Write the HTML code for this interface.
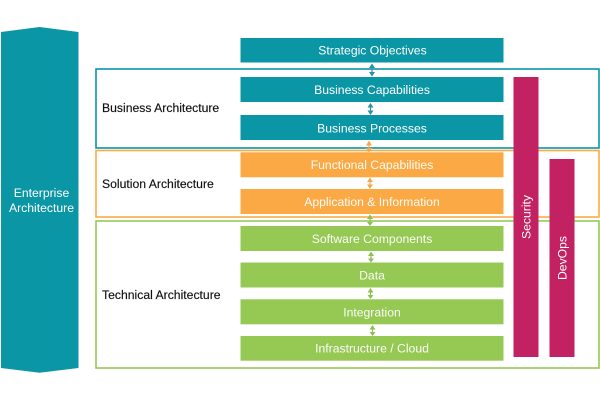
<!DOCTYPE html>
<html><head><meta charset="utf-8"><style>
html,body{margin:0;padding:0;background:#fff}
svg{display:block}
text{font-family:"Liberation Sans",sans-serif;font-size:12.2px}
.w{fill:#fff;text-anchor:middle}
.wl{fill:#fff;text-anchor:middle;fill-opacity:.95}
.k{fill:#111;stroke:#111;stroke-width:.15}
</style></head><body>
<svg width="600" height="400" viewBox="0 0 600 400" xmlns="http://www.w3.org/2000/svg">
<rect width="600" height="400" fill="#fff"/>
<polygon points="1,32 39.5,27 78.5,32 78.5,368 39.5,372.8 1,368" fill="#0b96a6"/>
<text class="w" x="41.500" y="197">Enterprise</text>
<text class="w" x="41.500" y="212">Architecture</text>

<rect x="96" y="69" width="503" height="79" fill="none" stroke="#0b96a6" stroke-width="1.6"/>
<rect x="96" y="150.5" width="503" height="66.5" fill="none" stroke="#fbab45" stroke-width="1.6"/>
<rect x="96" y="221" width="503" height="147" fill="none" stroke="#96c954" stroke-width="1.6"/>

<g fill="#0b96a6">
<rect x="240.5" y="38" width="263" height="24.5"/>
<rect x="240.5" y="77" width="263" height="25"/>
<rect x="240.5" y="115" width="263" height="25"/>
</g>
<g fill="#fba944">
<rect x="240.5" y="152.3" width="263" height="25"/>
<rect x="240.5" y="189" width="263" height="25"/>
</g>
<g fill="#96c954">
<rect x="240.5" y="226" width="263" height="25"/>
<rect x="240.5" y="262.5" width="263" height="25"/>
<rect x="240.5" y="299.3" width="263" height="25"/>
<rect x="240.5" y="336" width="263" height="24.7"/>
</g>
<rect x="513.5" y="77" width="25" height="280" fill="#c22262"/>
<rect x="549.5" y="159" width="25" height="198" fill="#c22262"/>

<g stroke-width="1.2" fill="none" stroke="#2b8fa6">
<path d="M372 65v11"/><path d="M370.5 105v9"/>
</g>
<g fill="#2b8fa6">
<polygon points="372,63.5 369,68 375,68"/><polygon points="372,76.5 369,72 375,72"/>
<polygon points="370.5,103 367.5,107.500 373.500,107.500"/><polygon points="370.5,115 367.500,110.500 373.500,110.500"/>
</g>
<g stroke-width="1.200" fill="none" stroke="#f4a64c">
<path d="M369 142v10"/><path d="M370 179v9"/>
</g>
<g fill="#f4a64c">
<polygon points="369,140.500 366,145.500 372,145.500"/><polygon points="369,152 366,148 372,148"/>
<polygon points="370,177.500 367,182 373,182"/><polygon points="370,189 367,184.500 373,184.500"/>
</g>
<g stroke-width="1.200" fill="none" stroke="#8cc152">
<path d="M370 215v10"/><path d="M371 253v9"/><path d="M370.500 289v9"/><path d="M372.500 326v9"/>
</g>
<g fill="#8cc152">
<polygon points="370,214.500 367,219 373,219"/><polygon points="370,226 367,222 373,222"/>
<polygon points="371,251.500 368,256 374,256"/><polygon points="371,262.500 368,258.500 374,258.500"/>
<polygon points="370.500,288 367.500,292.500 373.500,292.500"/><polygon points="370.500,299 367.500,295 373.500,295"/>
<polygon points="372.500,325 369.500,329.500 375.500,329.500"/><polygon points="372.500,336 369.500,332 375.500,332"/>
</g>

<text class="k" x="102" y="112">Business Architecture</text>
<text class="k" x="102" y="188">Solution Architecture</text>
<text class="k" x="102" y="299">Technical Architecture</text>

<text class="w" x="372.500" y="54.500">Strategic Objectives</text>
<text class="w" x="372" y="94">Business Capabilities</text>
<text class="w" x="372" y="132.300">Business Processes</text>
<text class="wl" x="372" y="169">Functional Capabilities</text>
<text class="wl" x="372" y="206">Application &amp; Information</text>
<text class="wl" x="372" y="243">Software Components</text>
<text class="wl" x="372" y="279.500">Data</text>
<text class="wl" x="372" y="316.300">Integration</text>
<text class="wl" x="372" y="352.500">Infrastructure / Cloud</text>

<text class="w" transform="translate(530.500,217) rotate(-90)">Security</text>
<text class="w" transform="translate(566.500,258) rotate(-90)">DevOps</text>
</svg>
</body></html>
